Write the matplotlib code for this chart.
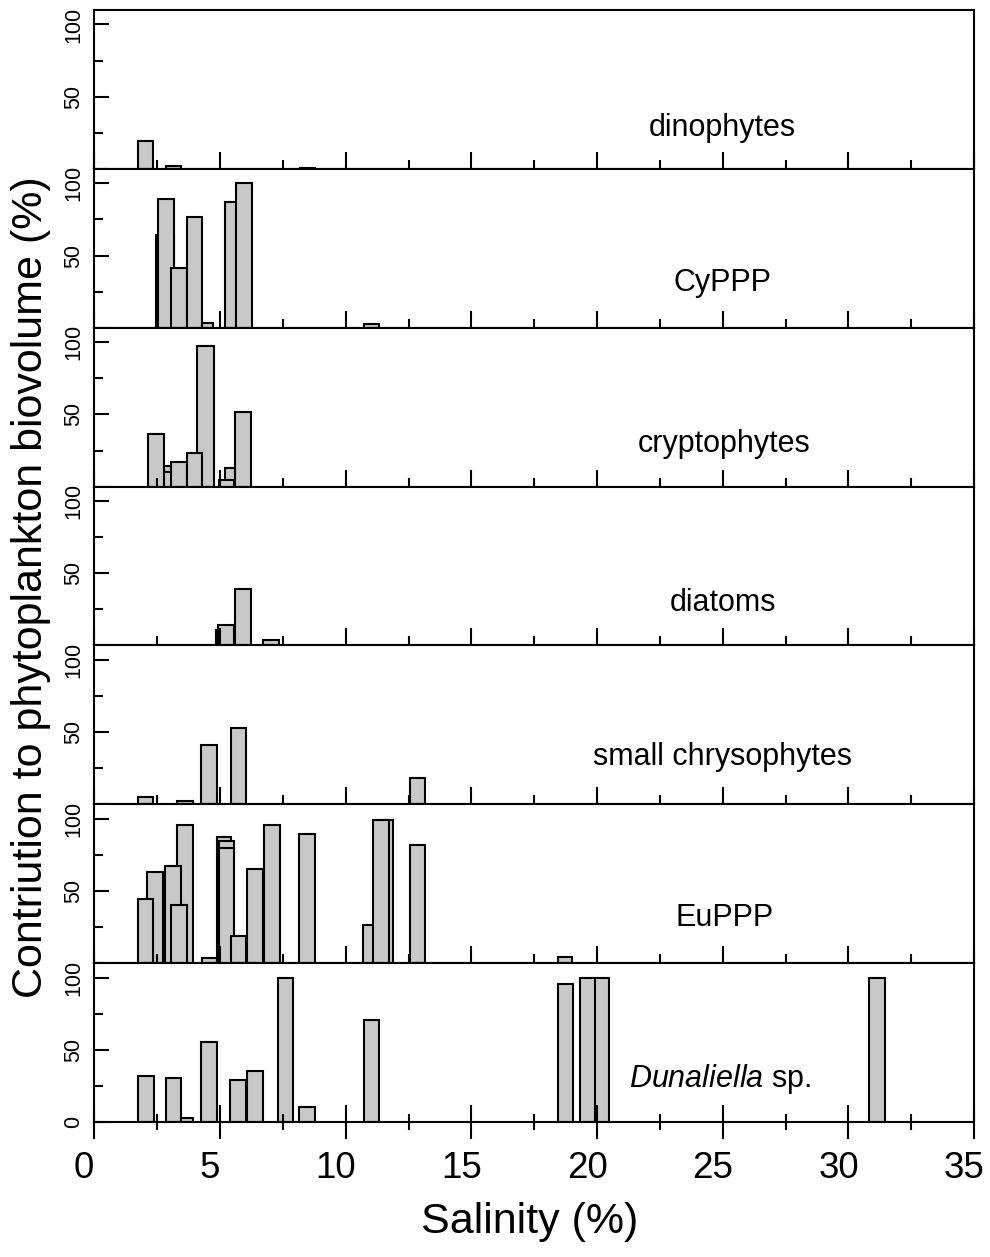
import matplotlib.pyplot as plt
import matplotlib.transforms as mtransforms
from matplotlib.ticker import MultipleLocator

plt.rcParams['font.family'] = ['Liberation Sans', 'DejaVu Sans']
plt.rcParams['mathtext.fontset'] = 'custom'
plt.rcParams['mathtext.rm'] = 'Liberation Sans'
plt.rcParams['mathtext.it'] = 'Liberation Sans:italic'

# Bars per group: salinity (bar centre), salinity range covered (bar width), contribution (%)
# listed in drawing order (later bars lie in front)
dino_sal = [2.05, 3.14, 8.5]
dino_wid = [0.6, 0.6, 0.6]
dino_val = [19, 2, 0.5]

cyppp_sal = [2.81, 2.85, 3.37, 3.98, 4.50, 5.43, 5.97, 11.02]
cyppp_wid = [0.72, 0.64, 0.62, 0.60, 0.45, 0.45, 0.63, 0.60]
cyppp_val = [64, 89, 41.5, 77, 3, 87, 100, 2.5]

crypto_sal = [2.75, 2.80, 2.44, 3.37, 4.42, 4.00, 5.41, 5.26, 5.93]
crypto_wid = [0.60, 0.60, 0.64, 0.64, 0.65, 0.61, 0.40, 0.60, 0.64]
crypto_val = [14, 10, 36.5, 17, 97.4, 23, 13, 4.6, 51.8]

diatom_sal = [5.14, 5.25, 5.93, 7.04]
diatom_wid = [0.60, 0.63, 0.64, 0.64]
diatom_val = [11, 14.3, 39, 3.5]

chryso_sal = [2.05, 3.62, 4.56, 5.73, 12.86]
chryso_wid = [0.60, 0.64, 0.64, 0.60, 0.62]
chryso_val = [5, 2, 41.4, 52.8, 18.3]

euppp_sal = [2.42, 2.05, 3.62, 3.13, 3.38, 4.57, 5.16, 5.26, 5.26, 5.73, 6.38,
             7.06, 8.46, 11.0, 11.6, 11.42, 12.86, 18.72]
euppp_wid = [0.61, 0.61, 0.64, 0.62, 0.64, 0.60, 0.59, 0.59, 0.59, 0.60, 0.64,
             0.64, 0.65, 0.62, 0.60, 0.63, 0.62, 0.55]
euppp_val = [62.8, 44.3, 95.4, 67.4, 40.6, 3.3, 87.3, 84.5, 80, 18.5, 64.9,
             95.8, 89.6, 26.6, 99, 99, 82, 4]

duna_sal = [2.06, 3.14, 3.69, 4.57, 5.71, 6.38, 7.62, 8.46, 11.03, 18.73, 19.63, 20.21, 31.12]
duna_wid = [0.62, 0.60, 0.50, 0.63, 0.62, 0.64, 0.61, 0.65, 0.62, 0.60, 0.62, 0.55, 0.63]
duna_val = [31.7, 30.3, 3, 55.7, 28.9, 35.3, 99.6, 10.1, 70.9, 95.9, 100, 100, 100]

group_names = ['dinophytes', 'CyPPP', 'cryptophytes', 'diatoms',
               'small chrysophytes', 'EuPPP', r'$\it{Dunaliella}$ sp.']
label_pos = [(0.714, 0.26), (0.714, 0.28), (0.716, 0.27), (0.715, 0.266),
             (0.714, 0.296), (0.716, 0.283), (0.711, 0.27)]

panels = [(dino_sal, dino_wid, dino_val),
          (cyppp_sal, cyppp_wid, cyppp_val),
          (crypto_sal, crypto_wid, crypto_val),
          (diatom_sal, diatom_wid, diatom_val),
          (chryso_sal, chryso_wid, chryso_val),
          (euppp_sal, euppp_wid, euppp_val),
          (duna_sal, duna_wid, duna_val)]

fig, axes = plt.subplots(7, 1, figsize=(9.9, 12.57), dpi=100, sharex=True)
fig.subplots_adjust(left=0.0952, right=0.984, top=0.992, bottom=0.1074, hspace=0)

for i, ax in enumerate(axes):
    sal, wid, val = panels[i]
    ax.bar(sal, val, width=wid, color='#c8c8c8', edgecolor='black', linewidth=1.5)
    ax.set_xlim(0, 35)
    ax.set_ylim(0, 110)
    ax.xaxis.set_major_locator(MultipleLocator(5))
    ax.xaxis.set_minor_locator(MultipleLocator(2.5))
    ax.set_yticks([0, 50, 100])
    ax.set_yticks([25, 75], minor=True)
    last = i == len(axes) - 1
    ax.set_yticklabels(['0' if last else '', '50', '100'], rotation=90, va='center')
    ax.tick_params(axis='y', which='major', direction='in', length=11, width=1.5,
                   labelsize=15.5, pad=7)
    ax.tick_params(axis='y', which='minor', direction='in', length=6.5, width=1.5)
    if last:
        ax.tick_params(axis='x', which='major', direction='inout', length=24, width=1.5,
                       labelsize=26.5, pad=9)
        ax.tick_params(axis='x', which='minor', direction='inout', length=12, width=1.5)
        # tick labels in the original sit a little left of their ticks
        shift = mtransforms.ScaledTranslation(-0.1, 0, fig.dpi_scale_trans)
        for lab in ax.get_xticklabels():
            lab.set_transform(lab.get_transform() + shift)
    else:
        ax.tick_params(axis='x', which='major', direction='in', length=12, width=1.5)
        ax.tick_params(axis='x', which='minor', direction='in', length=6.5, width=1.5)
    for s in ax.spines.values():
        s.set_linewidth(1.5)
    ax.text(label_pos[i][0], label_pos[i][1], group_names[i], transform=ax.transAxes,
            ha='center', va='center', fontsize=22)

fig.text(0.031, 1 - 587 / 1257, 'Contriution to phytoplankton biovolume (%)',
         rotation=90, ha='center', va='center', fontsize=31)
fig.text(0.535, 1 - 1222 / 1257, 'Salinity (%)', ha='center', va='center', fontsize=31)

plt.savefig('out.png', dpi=100)
